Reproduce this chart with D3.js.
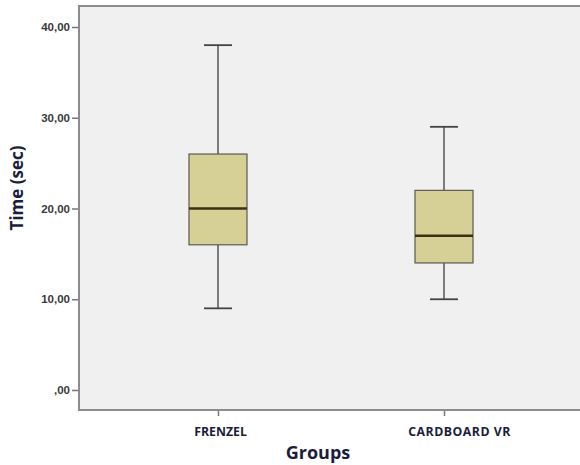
<!DOCTYPE html>
<html>
<head>
<meta charset="utf-8">
<script src="https://cdn.jsdelivr.net/npm/d3@7"></script>
<style>
  body { margin: 0; background: #fff; }
  svg { display: block; }
</style>
</head>
<body>
<div id="chart"></div>
<script>
// Box plot data
var groups = ['FRENZEL', 'CARDBOARD VR'],
    whiskerLow = [9, 10],
    q1 = [16, 14],
    median = [20, 17],
    q3 = [26, 22],
    whiskerHigh = [38, 29],
    yTicks = [0, 10, 20, 30, 40];

var width = 580, height = 465,
    frame = {left: 79, top: 6, right: 583, bottom: 410};

var svg = d3.select('#chart').append('svg')
  .attr('width', width)
  .attr('height', height);

var x = d3.scalePoint()
  .domain(groups)
  .range([frame.left, frame.right])
  .padding(0.615);

var y = d3.scaleLinear()
  .domain([0, 40])
  .range([390, 27]);

// SPSS style number labels: 40,00 ... ,00
function fmt(v) {
  var s = d3.format('.2f')(v).replace('.', ',');
  return s.indexOf('0,') === 0 ? s.slice(1) : s;
}

// plot background
svg.append('rect')
  .attr('x', frame.left)
  .attr('y', frame.top)
  .attr('width', frame.right - frame.left)
  .attr('height', frame.bottom - frame.top)
  .attr('fill', '#f0f0f0');

// Y axis
var yAxis = svg.append('g')
  .attr('transform', 'translate(' + frame.left + ',0)')
  .call(d3.axisLeft(y).tickValues(yTicks).tickFormat(fmt).tickSize(7).tickPadding(2));
yAxis.select('.domain').remove();
yAxis.selectAll('.tick line').attr('stroke', '#777').attr('stroke-width', 1.5);
yAxis.selectAll('.tick text')
  .attr('fill', '#3a3a3a')
  .style('font-family', 'Arial, "Liberation Sans", sans-serif')
  .style('font-size', '11.5px')
  .style('font-weight', 'bold');

// X axis
var xAxis = svg.append('g')
  .attr('transform', 'translate(0,' + frame.bottom + ')')
  .call(d3.axisBottom(x).tickSize(6).tickPadding(11));
xAxis.select('.domain').remove();
xAxis.selectAll('.tick line').attr('stroke', '#777').attr('stroke-width', 1.5);
xAxis.selectAll('.tick text')
  .attr('fill', '#1c1c3c')
  .attr('dx', function(d, i) { return i === 1 ? 15 : 2; })   // SPSS offsets the long label
  .style('letter-spacing', function(d, i) { return i === 1 ? '0.5px' : '0px'; })
  .style('font-family', '"Open Sans", sans-serif')
  .style('font-size', '12.3px')
  .style('font-weight', 'bold');

// frame lines (left, top, bottom)
svg.append('path')
  .attr('d', 'M' + (width + 5) + ',' + frame.top + 'H' + frame.left + 'V' + frame.bottom + 'H' + (width + 5))
  .attr('fill', 'none')
  .attr('stroke', '#8c8c8c')
  .attr('stroke-width', 2);

// Boxes
var boxW = 58, capW = 28;
var box = svg.selectAll('.box')
  .data(groups)
  .enter().append('g')
    .attr('class', 'box');

// whiskers
box.append('line')
  .attr('x1', function(d) { return x(d); })
  .attr('x2', function(d) { return x(d); })
  .attr('y1', function(d, i) { return y(whiskerHigh[i]); })
  .attr('y2', function(d, i) { return y(q3[i]); })
  .attr('stroke', '#555').attr('stroke-width', 1.5);
box.append('line')
  .attr('x1', function(d) { return x(d); })
  .attr('x2', function(d) { return x(d); })
  .attr('y1', function(d, i) { return y(q1[i]); })
  .attr('y2', function(d, i) { return y(whiskerLow[i]); })
  .attr('stroke', '#555').attr('stroke-width', 1.5);

// caps
[whiskerHigh, whiskerLow].forEach(function(arr) {
  box.append('line')
    .attr('x1', function(d) { return x(d) - capW / 2; })
    .attr('x2', function(d) { return x(d) + capW / 2; })
    .attr('y1', function(d, i) { return y(arr[i]); })
    .attr('y2', function(d, i) { return y(arr[i]); })
    .attr('stroke', '#444').attr('stroke-width', 1.8);
});

// box body
box.append('rect')
  .attr('x', function(d) { return x(d) - boxW / 2; })
  .attr('width', boxW)
  .attr('y', function(d, i) { return y(q3[i]); })
  .attr('height', function(d, i) { return y(q1[i]) - y(q3[i]); })
  .attr('fill', '#d6d096')
  .attr('stroke', '#5a5a50')
  .attr('stroke-width', 1.2);

// median
box.append('line')
  .attr('x1', function(d) { return x(d) - boxW / 2; })
  .attr('x2', function(d) { return x(d) + boxW / 2; })
  .attr('y1', function(d, i) { return y(median[i]); })
  .attr('y2', function(d, i) { return y(median[i]); })
  .attr('stroke', '#3a3212').attr('stroke-width', 2.5);

// axis titles
svg.append('text')
  .attr('x', 318)
  .attr('y', 459)
  .attr('text-anchor', 'middle')
  .attr('fill', '#1c1c3c')
  .style('font-family', '"Open Sans", sans-serif')
  .style('font-size', '18px')
  .style('font-weight', 'bold')
  .text('Groups');

svg.append('text')
  .attr('transform', 'translate(23,188) rotate(-90)')
  .attr('text-anchor', 'middle')
  .attr('fill', '#1c1c3c')
  .style('font-family', '"Open Sans", sans-serif')
  .style('font-size', '17px')
  .style('font-weight', 'bold')
  .text('Time (sec)');
</script>
</body>
</html>
